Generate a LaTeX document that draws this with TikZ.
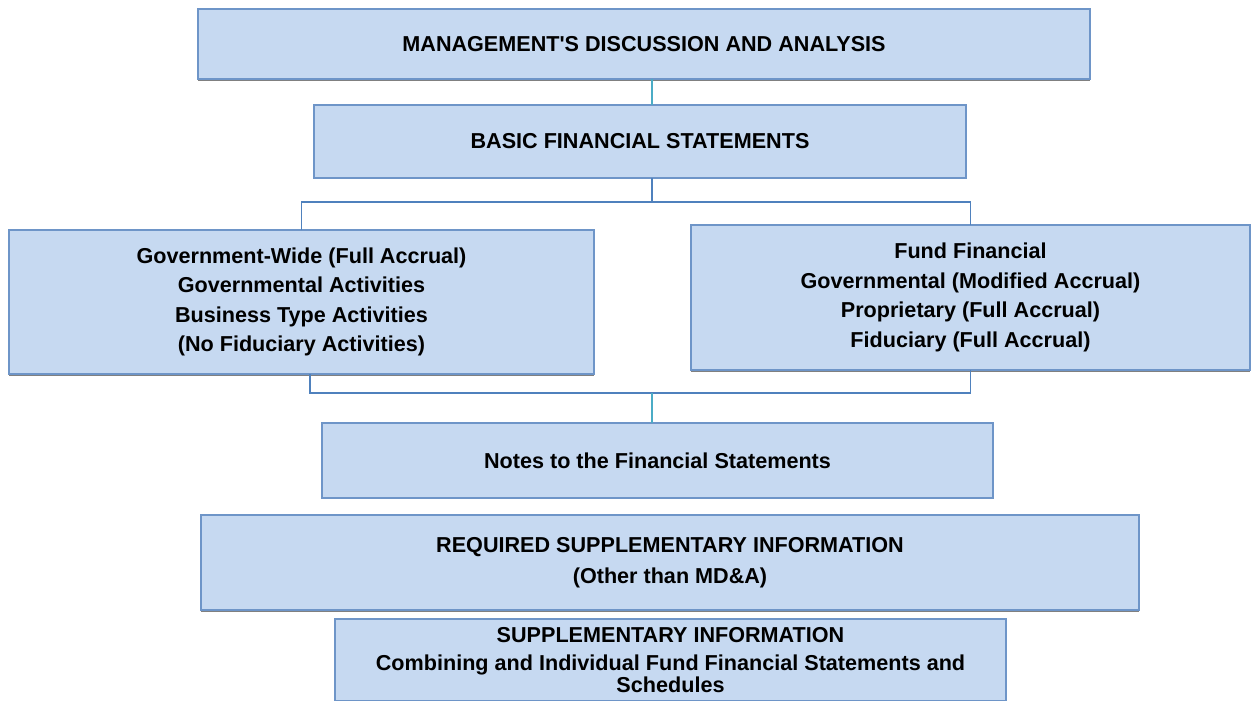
\documentclass[tikz,border=0pt]{standalone}
\usepackage{fontspec}
\setmainfont{Liberation Sans}[Ligatures=TeXOff]
\usetikzlibrary{shadows}
\definecolor{boxfill}{HTML}{C6D9F1}
\definecolor{boxline}{HTML}{6E95C8}
\definecolor{linkblue}{HTML}{4F81BD}
\definecolor{linkteal}{HTML}{4BACC6}
\begin{document}
\begin{tikzpicture}[x=0.75pt,y=-0.75pt,
  box/.style={draw=boxline, fill=boxfill, line width=1.1pt, inner sep=0pt, outer sep=0pt,
    align=center, font=\fontsize{16.2}{22.2}\selectfont\bfseries},
  shade bottom/.style={drop shadow={shadow xshift=0pt, shadow yshift=-1.6pt, opacity=1, fill=black!50}},
  blueline/.style={draw=linkblue, line width=1.1pt},
  tealline/.style={draw=linkteal, line width=1.1pt}]
\useasboundingbox (0,0) rectangle (1251,700);
\clip (0,0) rectangle (1251,700);

% statement boxes, top to bottom
\node[box, shade bottom, minimum width=669pt, minimum height=52.5pt] (mda) at (644,44)
  {MANAGEMENT'S DISCUSSION AND ANALYSIS};
\node[box, minimum width=489pt, minimum height=54.75pt] (bfs) at (640,141.5)
  {BASIC FINANCIAL STATEMENTS};
\node[box, shade bottom, minimum width=438.75pt, minimum height=108pt] (gw) at (301.5,302)
  {Government-Wide (Full Accrual)\\ Governmental Activities\\ Business Type Activities\\ (No Fiduciary Activities)};
\node[box, shade bottom, minimum width=419.25pt, minimum height=108.75pt] (fund) at (970.5,297.5)
  {Fund Financial\\ Governmental (Modified Accrual)\\ Proprietary (Full Accrual)\\ Fiduciary (Full Accrual)};
\node[box, minimum width=503.25pt, minimum height=56.25pt] (notes) at (657.5,460.5)
  {Notes to the Financial Statements};
\node[box, shade bottom, minimum width=703.5pt, minimum height=71.25pt] (rsi) at (670,562.5)
  {REQUIRED SUPPLEMENTARY INFORMATION\\[1pt] (Other than MD\&A)};
\node[box, minimum width=503.25pt, minimum height=61.5pt] (si) at (670.5,660)
  {SUPPLEMENTARY INFORMATION\\[-1.2pt]
   Combining and Individual Fund Financial Statements and\\[-5.7pt] Schedules};

% connector guides
\coordinate (mid) at (652,0);
\coordinate (upperbus) at (0,202);
\coordinate (lowerbus) at (310,393);

% connectors
\draw[tealline] (mid |- mda.south) -- (mid |- bfs.north);
\draw[blueline] (mid |- bfs.south) -- (mid |- upperbus);
\draw[blueline] (gw.north) -- (gw.north |- upperbus) -- (fund.north |- upperbus) -- (fund.north);
\draw[blueline] (lowerbus |- gw.south) -- (lowerbus) -- (fund.south |- lowerbus) -- (fund.south);
\draw[tealline] (mid |- lowerbus) -- (mid |- notes.north);
\end{tikzpicture}
\end{document}
